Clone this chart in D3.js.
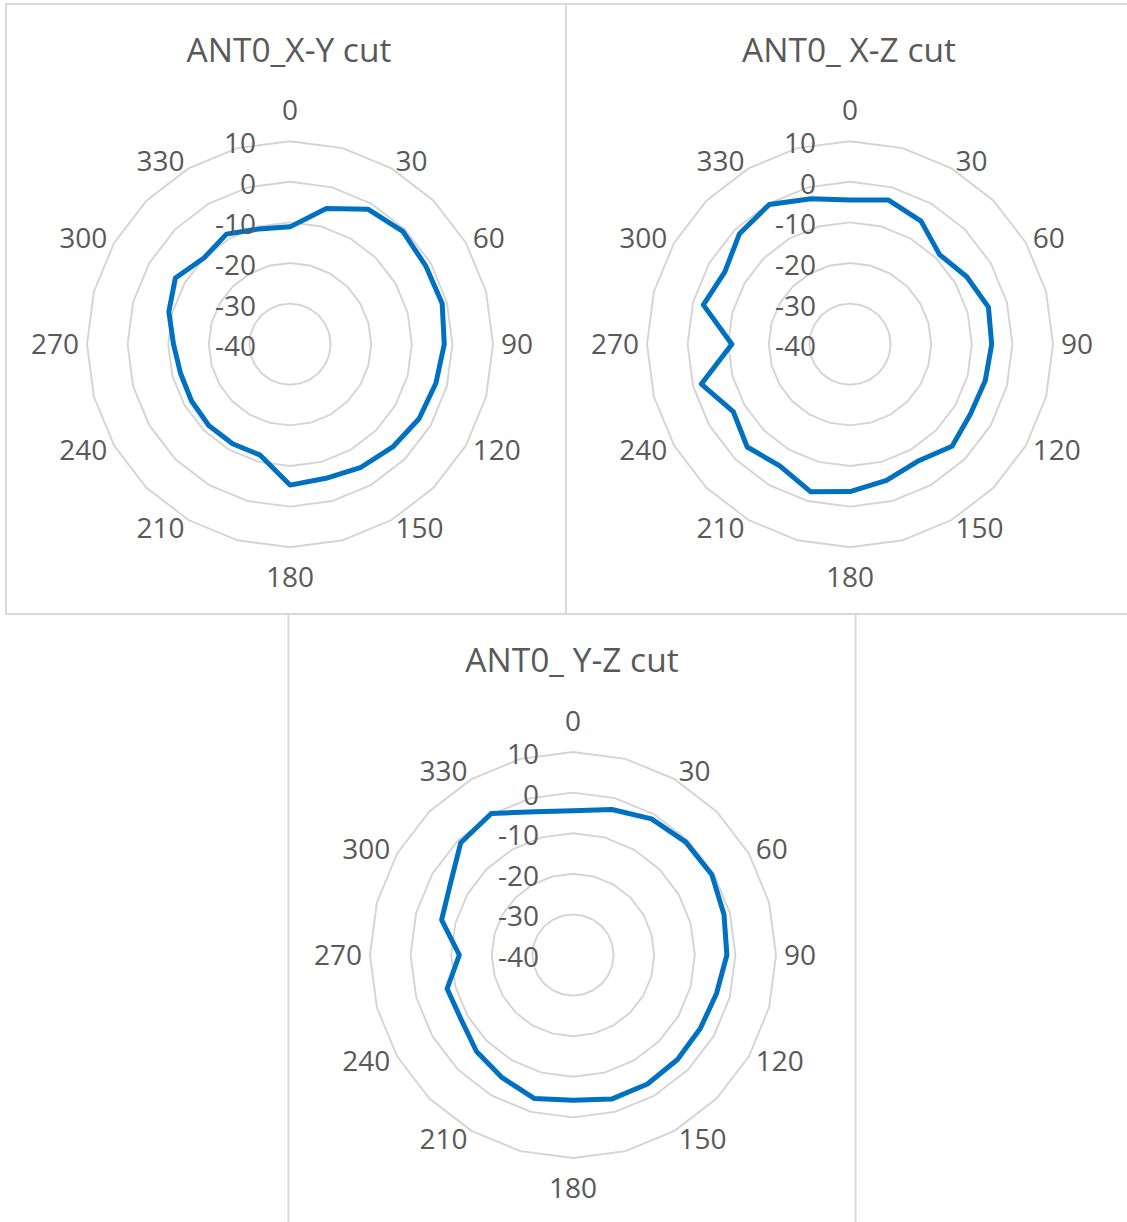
<!DOCTYPE html>
<html>
<head>
<meta charset="utf-8">
<script src="https://cdn.jsdelivr.net/npm/d3@7/dist/d3.min.js"></script>
<style>
  html, body { margin: 0; padding: 0; background: #ffffff; }
  svg { display: block; }
  text { font-family: "Open Sans", "Noto Sans", sans-serif; fill: #595959; }
</style>
</head>
<body>
<script>
// ---------- data ----------
const angles = [0, 15, 30, 45, 60, 75, 90, 105, 120, 135, 150, 165,
                180, 195, 210, 225, 240, 255, 270, 285, 300, 315, 330, 345];
const angleLabels = [0, 30, 60, 90, 120, 150, 180, 210, 240, 270, 300, 330];
const ringTicks = [-40, -30, -20, -10, 0, 10];

const titles = ["ANT0_X-Y cut", "ANT0_ X-Z cut", "ANT0_ Y-Z cut"];

const xyCut = [-11.1, -5.4, -1.6, -0.7, -1.4, -1.2, -2.0, -2.8, -3.3, -4.2, -5.0, -5.8,
               -5.3, -11.7, -11.7, -11.7, -12.0, -12.1, -11.3, -9.1, -7.4, -10.0, -8.7, -10.6];
const xzCut = [-4.5, -3.25, -5.0, -8.8, -6.8, -4.7, -5.1, -5.5, -5.7, -4.45, -6.7, -5.25,
               -3.7, -2.4, -5.4, -4.2, -6.8, -2.1, -10.9, -2.6, -4.4, -1.5, -0.25, -2.9];
const yzCut = [-4.5, -2.9, -1.3, -0.7, -0.5, -1.5, -2.1, -3.4, -3.8, -3.6, -3.3, -3.25,
               -4.2, -3.4, -5.1, -6.4, -8.2, -7.9, -12.0, -6.5, -5.1, -0.9, 0.25, -3.5];

// ---------- layout ----------
const W = 1127, H = 1222;
const FS = 28;      // axis label font size
const TFS = 33.5;   // title font size
const panels = [
  { x: 6,   y: 4,   w: 560, h: 610, cx: 290, cy: 344.2, title: titles[0], values: xyCut },
  { x: 566, y: 4,   w: 565, h: 610, cx: 850, cy: 344.2, title: titles[1], values: xzCut },
  { x: 288.5, y: 614, w: 567, h: 612, cx: 573, cy: 955,  title: titles[2], values: yzCut }
];

const svg = d3.select("body").append("svg")
  .attr("width", W).attr("height", H);

const rScale = d3.scaleLinear().domain([-40, 10]).range([0, 203]);
const toRad = a => a * Math.PI / 180;

panels.forEach(p => {
  const g = svg.append("g");

  // panel frame
  g.append("rect")
    .attr("x", p.x).attr("y", p.y).attr("width", p.w).attr("height", p.h)
    .attr("fill", "#ffffff").attr("stroke", "#d9d9d9").attr("stroke-width", 2);

  // title
  g.append("text")
    .attr("x", p.cx - 1).attr("y", p.y + 46 + 12)
    .attr("text-anchor", "middle")
    .style("font-size", TFS + "px")
    .text(p.title);

  const c = g.append("g").attr("transform", `translate(${p.cx},${p.cy})`);

  // grid rings (24-gon)
  const ringLine = d3.lineRadial()
    .angle(a => toRad(a))
    .curve(d3.curveLinearClosed);

  ringTicks.filter(t => t > -40).forEach(t => {
    c.append("path")
      .attr("d", ringLine.radius(() => rScale(t))(angles))
      .attr("fill", "none")
      .attr("stroke", "#d4d4d4")
      .attr("stroke-width", 1.9);
  });

  // data polygon
  const dataLine = d3.lineRadial()
    .angle((d, i) => toRad(angles[i]))
    .radius(d => rScale(d))
    .curve(d3.curveLinearClosed);

  c.append("path")
    .attr("d", dataLine(p.values))
    .attr("fill", "none")
    .attr("stroke", "#0070C0")
    .attr("stroke-width", 5)
    .attr("stroke-linejoin", "round");

  // value axis labels
  c.selectAll("text.val").data(ringTicks).enter().append("text")
    .attr("class", "val")
    .attr("x", -34)
    .attr("y", t => -rScale(t) + 2 + 0.357 * FS)
    .attr("text-anchor", "end")
    .style("font-size", FS + "px")
    .text(t => t);

  // category labels
  const LR = 211;
  angleLabels.forEach(a => {
    const s = Math.sin(toRad(a)), co = Math.cos(toRad(a));
    let x, yc, anchor;
    if (a === 0) { x = 0; yc = -234; anchor = "middle"; }
    else if (a === 180) { x = 0; yc = 233; anchor = "middle"; }
    else {
      x = LR * s; yc = -212 * co;
      anchor = a < 180 ? "start" : "end";
    }
    c.append("text")
      .attr("x", x)
      .attr("y", yc + 0.357 * FS)
      .attr("text-anchor", anchor)
      .style("font-size", FS + "px")
      .text(a);
  });
});
</script>
</body>
</html>
